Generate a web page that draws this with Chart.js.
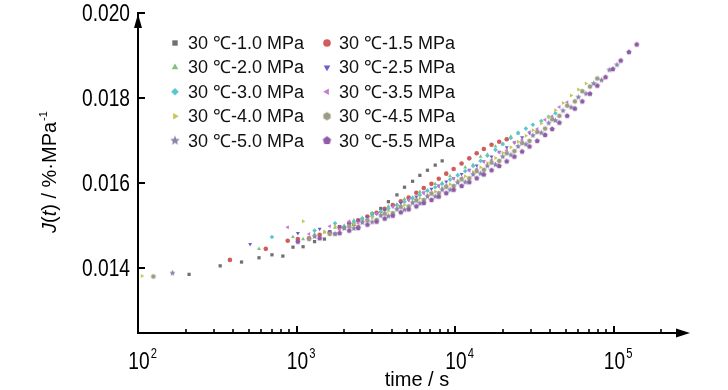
<!DOCTYPE html>
<html>
<head>
<meta charset="utf-8">
<script src="https://cdn.jsdelivr.net/npm/chart.js@4.4.0/dist/chart.umd.min.js"></script>
<style>
html,body{margin:0;padding:0;background:#fff;}
#wrap{width:728px;height:390px;}
</style>
</head>
<body>
<div id="wrap"><canvas id="creep" width="728" height="390"></canvas></div>
<script>
// sample times (s), two grids so the sparse early points don't stack
const timeA = [106,165,210,330,450,580,700,820,950,1100,1300,1500,1750,2000,2300,2600,3000,3400,3800,4300,4800,5400,6000,6700,7500,8300,9300,10400,11600,13000,14500,16000,18000,20000,22500,25000,28000,31000,35000,39000,43000,48000,54000,60000,67000,75000,84000,94000,105000,118000,132000];
const timeB = [125,250,380,510,640,760,880,1020,1200,1400,1620,1870,2150,2450,2800,3200,3600,4050,4550,5100,5700,6350,7100,7900,8800,9800,11000,12300,13700,15200,17000,19000,21200,23700,26500,29500,33000,37000,41000,45500,51000,57000,63500,71000,79000,89000,99000,111000,125000,140000];

// creep compliance J(t), %/MPa
const j10 = [null,null,0.01385,0.01405,0.01414,0.01424,0.01431,0.01428,0.01449,0.01450,0.01462,0.01468,0.01480,0.01494,0.01502,0.01515,0.01528,0.01540,0.01556,0.01572,0.01590,0.01604,0.01618,0.01630,0.01642,0.01652];
const j15 = [null,null,0.01419,null,0.01445,null,0.01464,0.01468,0.01470,0.01478,0.01484,0.01496,0.01505,0.01512,0.01521,0.01530,0.01539,0.01548,0.01557,0.01566,0.01577,0.01588,0.01598,0.01610,0.01622,0.01633,0.01646,0.01658,0.01670,0.01680,0.01690,0.01697,0.01703];
const j20 = [null,null,null,null,null,0.01445,null,null,0.01473,0.01468,0.01480,0.01484,0.01495,0.01500,0.01512,0.01518,0.01530,0.01532,0.01545,0.01549,0.01562,0.01564,0.01579,0.01582,0.01598,0.01600,0.01616,0.01619,0.01637,0.01643,0.01662,0.01667,0.01686,0.01691,0.01709,0.01716];
const j25 = [null,null,null,0.01456,null,null,null,0.01482,null,0.01492,0.01486,0.01498,0.01505,0.01512,0.01520,0.01528,0.01537,0.01545,0.01553,0.01560,0.01568,0.01577,0.01586,0.01594,0.01603,0.01611,0.01621,0.01631,0.01641,0.01651,0.01662,0.01673,0.01684,0.01695,0.01707,0.01718];
const j30 = [null,null,null,null,null,null,0.01473,null,null,null,0.01488,null,0.01505,0.01497,0.01508,0.01516,0.01522,0.01533,0.01540,0.01548,0.01556,0.01565,0.01572,0.01582,0.01590,0.01598,0.01608,0.01618,0.01628,0.01640,0.01652,0.01664,0.01678,0.01692,0.01706,0.01718,0.01728,0.01737,0.01746,0.01756,0.01764];
const j35 = [null,null,null,null,null,null,0.01496,null,0.01480,null,0.01498,0.01490,0.01510,0.01506,0.01514,0.01528,0.01529,0.01544,0.01545,0.01560,0.01561,0.01576,0.01577,0.01592,0.01594,0.01610,0.01612,0.01629,0.01633,0.01650,0.01654,0.01672,0.01677,0.01696,0.01701,0.01720,0.01727,0.01749,0.01757,0.01779,0.01790];
const j40 = [0.01381,null,null,null,null,null,null,null,null,0.01510,null,0.01486,0.01498,0.01492,0.01503,0.01510,0.01518,0.01526,0.01534,0.01541,0.01548,0.01556,0.01564,0.01572,0.01580,0.01588,0.01597,0.01606,0.01616,0.01626,0.01637,0.01647,0.01659,0.01671,0.01684,0.01697,0.01711,0.01724,0.01740,0.01756,0.01771,0.01788,0.01806,0.01820,0.01834];
const j45 = [0.01380,null,null,null,null,null,null,null,0.01468,null,0.01480,null,0.01498,0.01497,0.01512,0.01513,0.01528,0.01529,0.01544,0.01545,0.01559,0.01560,0.01575,0.01576,0.01591,0.01593,0.01609,0.01611,0.01628,0.01631,0.01648,0.01652,0.01670,0.01675,0.01694,0.01699,0.01720,0.01728,0.01750,0.01758,0.01782,0.01792,0.01816,0.01827,0.01846];
const j50 = [null,0.01388,null,null,null,null,null,null,null,null,0.01474,null,0.01480,0.01494,0.01493,0.01507,0.01508,0.01523,0.01522,0.01538,0.01537,0.01553,0.01552,0.01568,0.01568,0.01584,0.01584,0.01601,0.01602,0.01620,0.01622,0.01640,0.01643,0.01662,0.01666,0.01686,0.01691,0.01712,0.01718,0.01741,0.01747,0.01770,0.01778,0.01802,0.01810,0.01834,0.01842,0.01866,0.01878];
const j55 = [null,null,null,null,null,null,null,0.01462,null,0.01470,null,0.01482,0.01488,0.01494,0.01502,0.01509,0.01516,0.01523,0.01531,0.01538,0.01545,0.01553,0.01560,0.01568,0.01576,0.01584,0.01593,0.01602,0.01611,0.01620,0.01630,0.01640,0.01651,0.01662,0.01674,0.01686,0.01699,0.01713,0.01727,0.01742,0.01758,0.01775,0.01792,0.01810,0.01829,0.01849,0.01868,0.01888,0.01908,0.01926];

const labels = ["30 ℃-1.0 MPa","30 ℃-1.5 MPa","30 ℃-2.0 MPa","30 ℃-2.5 MPa","30 ℃-3.0 MPa",
                "30 ℃-3.5 MPa","30 ℃-4.0 MPa","30 ℃-4.5 MPa","30 ℃-5.0 MPa","30 ℃-5.5 MPa"];
const colors = ["#707070","#d25c5c","#7fc27f","#6b5fcc","#5cc6cf","#c97ad6","#c6c656","#9c9c84","#8a84ac","#8e5ca6"];

const xMajor = [100,1000,10000,100000];
const xMinor = [200,300,400,500,600,700,800,900,2000,3000,4000,5000,6000,7000,8000,9000,
                20000,30000,40000,50000,60000,70000,80000,90000,200000];
const xExp = ["2","3","4","5"];
const yTicks = [0.014,0.016,0.018,0.020];
const yTickText = ["0.014","0.016","0.018","0.020"];

// small filled polygons for markers Chart.js has no style for
function shapeImg(points, r, color, inner){
  const s = Math.ceil(2*r)+2;
  const c = document.createElement("canvas");
  c.width = c.height = s;
  const g = c.getContext("2d");
  g.fillStyle = color;
  g.beginPath();
  const n = inner ? points*2 : points;
  for(let i=0;i<n;i++){
    const rr = inner && i%2 ? r*inner : r;
    const a = -Math.PI/2 + i*2*Math.PI/n;
    const px = s/2 + rr*Math.cos(a), py = s/2 + rr*Math.sin(a);
    if(i) g.lineTo(px,py); else g.moveTo(px,py);
  }
  g.closePath();
  g.fill();
  return c;
}

const styles = [
  {style:"rect", rot:0},
  {style:"circle", rot:0},
  {style:"triangle", rot:0},
  {style:"triangle", rot:180},
  {style:"rectRot", rot:0},
  {style:"triangle", rot:270},
  {style:"triangle", rot:90},
  {style:shapeImg(6,2.6,colors[7]), legend:shapeImg(6,4.2,colors[7]), rot:0},
  {style:shapeImg(5,3.2,colors[8],0.45), legend:shapeImg(5,5,colors[8],0.45), rot:0},
  {style:shapeImg(5,2.7,colors[9]), legend:shapeImg(5,4.4,colors[9]), rot:0}
];
const seriesJ = [j10,j15,j20,j25,j30,j35,j40,j45,j50,j55];

const datasets = seriesJ.map((arr,i)=>{
  const t = i%2===0 ? timeA : timeB;
  const pts = [];
  arr.forEach((v,k)=>{ if(v!==null) pts.push({x:t[k], y:v}); });
  return {
    label: labels[i],
    data: pts,
    showLine:false,
    pointStyle: styles[i].style,
    pointRotation: styles[i].rot,
    pointRadius: 2.3,
    pointBorderWidth: 0,
    pointBackgroundColor: colors[i],
    pointBorderColor: colors[i],
    order: 10-i
  };
});

function squeezed(ctx, text, x, y, align, sx){
  ctx.save();
  ctx.translate(x,y);
  ctx.scale(sx,1);
  ctx.textAlign = align;
  ctx.fillText(text,0,0);
  ctx.restore();
}

const axesPlugin = {
  id:"axes",
  afterDraw(chart){
    const {ctx, chartArea:a, scales:{x, y}} = chart;
    ctx.save();
    ctx.strokeStyle = "#000";
    ctx.fillStyle = "#000";
    ctx.lineWidth = 2;
    ctx.beginPath();
    ctx.moveTo(a.left, a.bottom+1); ctx.lineTo(a.left, a.top-1);
    ctx.moveTo(a.left-1, a.bottom); ctx.lineTo(a.right-6, a.bottom);
    ctx.stroke();
    // arrow heads
    ctx.beginPath();
    ctx.moveTo(a.left, a.top+1); ctx.lineTo(a.left-4, a.top+15); ctx.lineTo(a.left+4, a.top+15);
    ctx.closePath(); ctx.fill();
    ctx.beginPath();
    ctx.moveTo(a.right+2, a.bottom); ctx.lineTo(a.right-12, a.bottom-4.5); ctx.lineTo(a.right-12, a.bottom+4.5);
    ctx.closePath(); ctx.fill();

    // ticks pointing inward
    yTicks.forEach(v=>{
      const p = Math.round(y.getPixelForValue(v));
      ctx.beginPath(); ctx.moveTo(a.left, p); ctx.lineTo(a.left+7, p); ctx.stroke();
    });
    xMajor.forEach(v=>{
      const p = Math.round(x.getPixelForValue(v));
      ctx.beginPath(); ctx.moveTo(p, a.bottom); ctx.lineTo(p, a.bottom-7); ctx.stroke();
    });
    ctx.lineWidth = 1.6;
    xMinor.forEach(v=>{
      const p = Math.round(x.getPixelForValue(v));
      ctx.beginPath(); ctx.moveTo(p, a.bottom); ctx.lineTo(p, a.bottom-4); ctx.stroke();
    });

    // tick labels
    ctx.textBaseline = "middle";
    ctx.font = "24px 'Liberation Sans', Arial, sans-serif";
    yTicks.forEach((v,i)=>{
      squeezed(ctx, yTickText[i], 130, y.getPixelForValue(v)+1, "right", 0.8);
    });
    ctx.textBaseline = "alphabetic";
    xMajor.forEach((v,i)=>{
      const p = x.getPixelForValue(v);
      ctx.font = "24px 'Liberation Sans', Arial, sans-serif";
      const w = ctx.measureText("10").width*0.8;
      squeezed(ctx, "10", p+1, 369, "center", 0.8);
      ctx.font = "14px 'Liberation Sans', Arial, sans-serif";
      squeezed(ctx, xExp[i], p+1+w/2+1, 358, "left", 0.8);
    });

    // axis titles
    ctx.font = "20px 'Liberation Sans', Arial, sans-serif";
    ctx.textAlign = "center";
    ctx.fillText("time / s", 417, 386);

    ctx.save();
    ctx.translate(56, 233);
    ctx.rotate(-Math.PI/2);
    ctx.textAlign = "left";
    const parts = [["J",true],["(",false],["t",true],[") / %·MPa",false]];
    let cx = 0;
    parts.forEach(([s,it])=>{
      ctx.font = (it?"italic ":"")+"20px 'Liberation Sans', Arial, sans-serif";
      ctx.fillText(s, cx, 0);
      cx += ctx.measureText(s).width;
    });
    ctx.font = "11px 'Liberation Sans', Arial, sans-serif";
    ctx.fillText("-1", cx+1, -9);
    ctx.restore();
    ctx.restore();
  }
};

const legendPlugin = {
  id:"cornerLegend",
  afterDraw(chart){
    const ctx = chart.ctx;
    ctx.save();
    ctx.font = "18px 'Liberation Sans', Arial, sans-serif";
    ctx.textBaseline = "middle";
    ctx.textAlign = "left";
    labels.forEach((lab,i)=>{
      const col = i%2, row = Math.floor(i/2);
      const mx = col ? 327 : 175;
      const tx = col ? 339 : 188;
      const my = 43 + row*24.4;
      ctx.fillStyle = colors[i];
      const st = styles[i].legend || styles[i].style;
      Chart.helpers.drawPoint(ctx, {pointStyle:st, rotation:styles[i].rot, radius:3.8, borderWidth:0}, mx, my);
      ctx.fillStyle = "#111";
      ctx.fillText(lab, tx, my+1);
    });
    ctx.restore();
  }
};

new Chart(document.getElementById("creep"), {
  type:"scatter",
  data:{datasets},
  options:{
    responsive:false,
    animation:false,
    devicePixelRatio:1,
    layout:{padding:{left:138, top:13, right:40, bottom:57}},
    plugins:{legend:{display:false}, tooltip:{enabled:false}},
    scales:{
      x:{type:"logarithmic", min:100, max:295000, display:false},
      y:{min:0.01247, max:0.0200, display:false}
    }
  },
  plugins:[axesPlugin, legendPlugin]
});
</script>
</body>
</html>
